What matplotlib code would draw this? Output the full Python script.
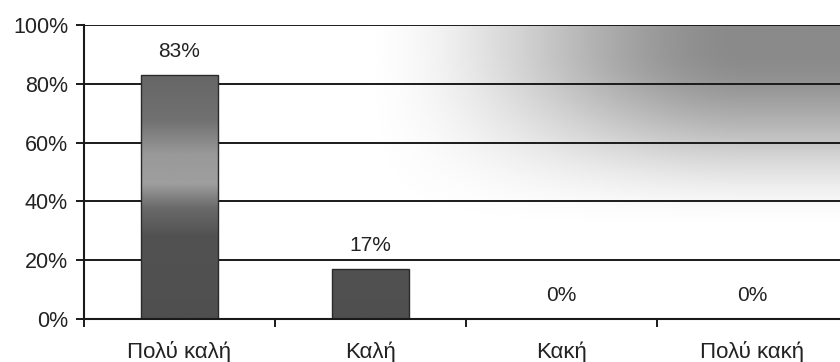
import numpy as np
import matplotlib
matplotlib.use('Agg')
import matplotlib.pyplot as plt
from matplotlib.ticker import FixedLocator, PercentFormatter

plt.rcParams['font.family'] = ['Liberation Sans', 'DejaVu Sans']

# Survey answers and share of responses (%)
categories = ['Πολύ καλή', 'Καλή', 'Κακή', 'Πολύ κακή']
shares = [83, 17, 0, 0]

fig = plt.figure(figsize=(8.4, 3.62), dpi=100)
ax = fig.add_axes([0.1, 0.1188, 0.9, 0.812])

x = np.arange(len(categories))
ax.set_xlim(-0.5, -0.5 + 756 / 191)
ax.set_ylim(0, 100)

# plot area background: white bottom-left fading to grey at the top-right
gx = np.linspace(0, 1, 300)
gy = np.linspace(0, 1, 150)
GX, GY = np.meshgrid(gx, gy)
def smooth(v, a, b):
    t = np.clip((v - a) / (b - a), 0, 1)
    return t * t * (3 - 2 * t)
shade = 1 - 0.46 * smooth(GX, 0.36, 0.88) * smooth(GY, 0.3, 0.92)
ax.imshow(shade, cmap='gray', vmin=0, vmax=1, origin='lower', aspect='auto',
          extent=[0, 1, 0, 1], transform=ax.transAxes, zorder=0, interpolation='bicubic')

# gridlines
for v in [20, 40, 60, 80, 100]:
    ax.axhline(v, color='#1a1a1a', lw=1.4, zorder=1)

# bars filled with a vertical grey gradient
stops_y = [0, 28, 38, 46, 56, 68, 100]
stops_g = [0.31, 0.32, 0.42, 0.62, 0.60, 0.44, 0.36]
bar_w = 0.4
bars = ax.bar(x, shares, width=bar_w, color='none', edgecolor='#2a2a2a', lw=1.0, zorder=3)
yy = np.linspace(0, 100, 200)
grad = np.interp(yy, stops_y, stops_g)[:, None] * np.ones((1, 4))
for b, v in zip(bars, shares):
    if v <= 0:
        continue
    im = ax.imshow(grad, cmap='gray', vmin=0, vmax=1, origin='lower', aspect='auto',
                   extent=[b.get_x(), b.get_x() + bar_w, 0, 100], zorder=2)
    im.set_clip_path(b)

# value labels above bars
for xi, v in zip(x, shares):
    ax.annotate(f'{v}%', (xi, v), xytext=(0, 17), textcoords='offset points',
                ha='center', va='center', fontsize=15, color='#222222', zorder=4)

# axes styling
for s in ['top', 'right']:
    ax.spines[s].set_visible(False)
for s in ['left', 'bottom']:
    ax.spines[s].set_color('#1a1a1a')
    ax.spines[s].set_linewidth(1.5)
    ax.spines[s].set_zorder(5)

ax.set_yticks([0, 20, 40, 60, 80, 100])
ax.yaxis.set_major_formatter(PercentFormatter(decimals=0))
ax.tick_params(axis='y', length=5.5, width=1.4, color='#1a1a1a', pad=6,
               labelsize=15.5, labelcolor='#222222')

ax.set_xticks(x)
ax.set_xticklabels(categories)
ax.xaxis.set_minor_locator(FixedLocator([-0.5, 0.5, 1.5, 2.5]))
ax.tick_params(axis='x', which='major', length=0, pad=16, labelsize=16, labelcolor='#222222')
ax.tick_params(axis='x', which='minor', length=6, width=1.4, color='#1a1a1a')

fig.savefig('out.png', dpi=100)
